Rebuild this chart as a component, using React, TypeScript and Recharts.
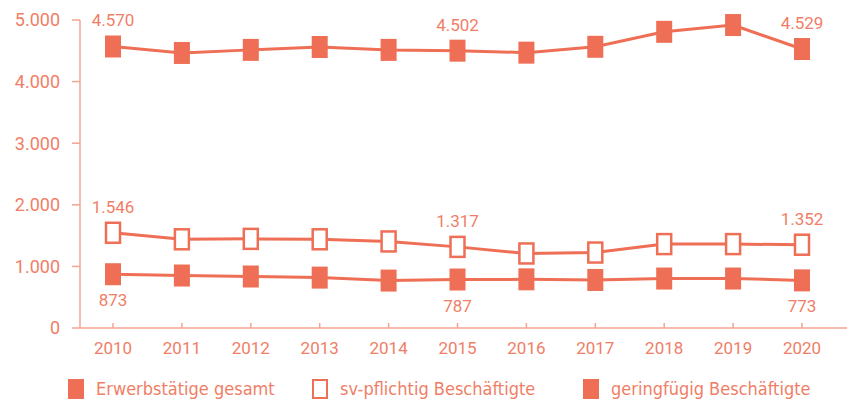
import React from 'react';
import { LineChart, Line, XAxis, YAxis, Legend } from 'recharts';

const years = ['2010', '2011', '2012', '2013', '2014', '2015', '2016', '2017', '2018', '2019', '2020'];
const gesamt = [4570, 4465, 4515, 4562, 4515, 4502, 4470, 4565, 4808, 4918, 4529];
const svPflichtig = [1546, 1440, 1447, 1440, 1405, 1317, 1210, 1225, 1362, 1362, 1352];
const geringfuegig = [873, 852, 836, 818, 770, 787, 790, 780, 803, 803, 773];
const yTicks = [0, 1000, 2000, 3000, 4000, 5000];
const labelled = [0, 5, 10];

const data = years.map((year, i) => ({
  year,
  gesamt: gesamt[i],
  sv: svPflichtig[i],
  gering: geringfuegig[i],
}));

const LINE = '#ee6f55';
const TEXT = '#f07e66';
const AXIS = '#f4a592';
const FONT = 'Roboto, sans-serif';

const fmt = (v: number) => v.toLocaleString('de-DE');

const SquareDot = (hollow: boolean) => (props: any) => {
  const { cx, cy, index } = props;
  if (cx == null || cy == null) return null;
  return hollow ? (
    <rect key={index} x={cx - 7} y={cy - 10} width={14} height={20} fill="#fff" stroke={LINE} strokeWidth={2.5} />
  ) : (
    <rect key={index} x={cx - 8} y={cy - 11} width={16} height={22} fill={LINE} />
  );
};

const makeLabel = (dy: number) => (props: any) => {
  const { x, y, index, value } = props;
  if (!labelled.includes(index)) return null;
  return (
    <text key={index} x={x} y={y + dy} textAnchor="middle" fill={TEXT} fontSize={17} fontFamily={FONT}>
      {fmt(value)}
    </text>
  );
};

const XTick = (props: any) => {
  const { x, y, payload } = props;
  return (
    <g>
      <line x1={x} x2={x} y1={y - 5} y2={y} stroke={AXIS} strokeWidth={1.5} />
      <text x={x} y={y + 26} textAnchor="middle" fill={TEXT} fontSize={17} fontFamily={FONT}>
        {payload.value}
      </text>
    </g>
  );
};

const legendItems = [
  { name: 'Erwerbstätige gesamt', hollow: false, left: 68 },
  { name: 'sv-pflichtig Beschäftigte', hollow: true, left: 312 },
  { name: 'geringfügig Beschäftigte', hollow: false, left: 583 },
];

const LegendContent = () => (
  <div style={{ position: 'relative', height: 33 }}>
    {legendItems.map((item) => (
      <div
        key={item.name}
        style={{ position: 'absolute', left: item.left, top: 10, display: 'flex', alignItems: 'center' }}
      >
        <div
          style={{
            boxSizing: 'border-box',
            width: 16,
            height: 20,
            background: item.hollow ? '#fff' : LINE,
            border: item.hollow ? `2px solid ${LINE}` : 'none',
            marginRight: 12,
          }}
        />
        <span
          style={{
            color: TEXT,
            fontSize: 18,
            fontFamily: "'Liberation Sans Narrow', 'DejaVu Sans Condensed', Roboto, sans-serif",
            fontStretch: 'condensed',
          }}
        >
          {item.name}
        </span>
      </div>
    ))}
  </div>
);

export default function App() {
  return (
    <div style={{ position: 'absolute', left: 0, top: 0, background: '#fff' }}>
      <LineChart width={850} height={401} data={data} margin={{ top: 20, right: 3, left: 0, bottom: 0 }}>
        <XAxis
          dataKey="year"
          height={40}
          padding={{ left: 33, right: 45 }}
          axisLine={{ stroke: AXIS, strokeWidth: 1.5 }}
          tickLine={false}
          tickSize={0}
          tickMargin={0}
          tick={XTick}
          interval={0}
        />
        <YAxis
          width={80}
          domain={[0, 5000]}
          ticks={yTicks}
          tickFormatter={fmt}
          axisLine={{ stroke: AXIS, strokeWidth: 1.5 }}
          tickLine={{ stroke: AXIS, strokeWidth: 1.5 }}
          tickSize={8}
          tickMargin={12}
          tick={{ fill: TEXT, fontSize: 18, fontFamily: FONT }}
        />
        <Legend verticalAlign="bottom" height={33} content={LegendContent} />
        <Line
          dataKey="gesamt"
          stroke={LINE}
          strokeWidth={3}
          dot={SquareDot(false)}
          activeDot={false}
          label={makeLabel(-20)}
          isAnimationActive={false}
        />
        <Line
          dataKey="sv"
          stroke={LINE}
          strokeWidth={3}
          dot={SquareDot(true)}
          activeDot={false}
          label={makeLabel(-20)}
          isAnimationActive={false}
        />
        <Line
          dataKey="gering"
          stroke={LINE}
          strokeWidth={3}
          dot={SquareDot(false)}
          activeDot={false}
          label={makeLabel(32)}
          isAnimationActive={false}
        />
      </LineChart>
    </div>
  );
}
